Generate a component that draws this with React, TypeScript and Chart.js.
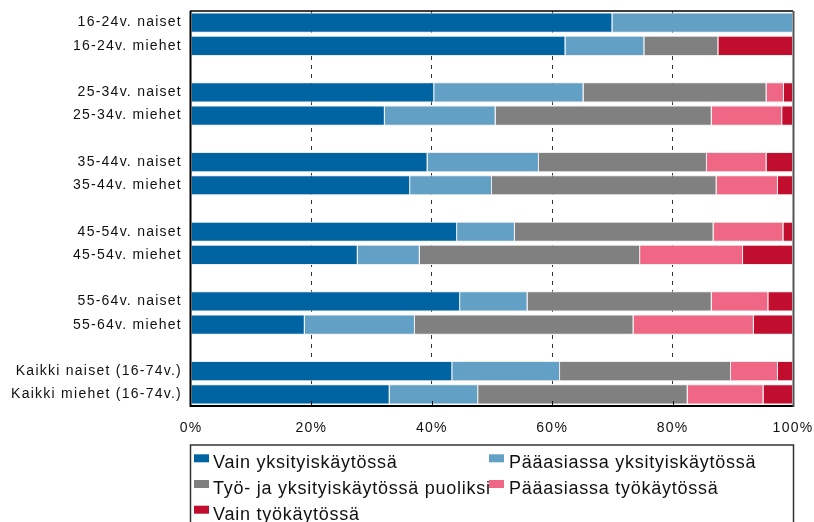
import React, { useEffect, useRef } from 'react';
import { Chart, registerables } from 'chart.js';

Chart.register(...registerables);

const categories = [
  '16-24v. naiset', '16-24v. miehet', '',
  '25-34v. naiset', '25-34v. miehet', '',
  '35-44v. naiset', '35-44v. miehet', '',
  '45-54v. naiset', '45-54v. miehet', '',
  '55-64v. naiset', '55-64v. miehet', '',
  'Kaikki naiset (16-74v.)', 'Kaikki miehet (16-74v.)',
];

const seriesNames = [
  'Vain yksityiskäytössä',
  'Pääasiassa yksityiskäytössä',
  'Työ- ja yksityiskäytössä puoliksi',
  'Pääasiassa työkäytössä',
  'Vain työkäytössä',
];

const vainYksityis = [70.0, 62.2, null, 40.4, 32.2, null, 39.3, 36.4, null, 44.2, 27.7, null, 44.7, 18.9, null, 43.4, 33.0];
const paaasiassaYksityis = [30.0, 13.1, null, 24.8, 18.4, null, 18.5, 13.6, null, 9.6, 10.3, null, 11.2, 18.3, null, 17.9, 14.7];
const puoliksi = [0, 12.3, null, 30.4, 35.9, null, 27.9, 37.3, null, 33.0, 36.6, null, 30.6, 36.3, null, 28.4, 34.8];
const paaasiassaTyo = [0, 0, null, 2.9, 11.7, null, 9.9, 10.2, null, 11.6, 17.1, null, 9.4, 20.0, null, 7.8, 12.6];
const vainTyo = [0, 12.4, null, 1.5, 1.8, null, 4.4, 2.5, null, 1.6, 8.3, null, 4.1, 6.5, null, 2.5, 4.9];

const seriesValues = [vainYksityis, paaasiassaYksityis, puoliksi, paaasiassaTyo, vainTyo];
const seriesColors = ['#0064a3', '#62a0c6', '#808080', '#f06785', '#c10e2f'];

const xTickValues = [0, 20, 40, 60, 80, 100];

const FONT = '"Liberation Sans", Arial, Helvetica, sans-serif';

const spacingPlugin = {
  id: 'spacing',
  beforeDraw(chart: any) {
    chart.ctx.letterSpacing = '1.25px';
  },
};

const framePlugin = {
  id: 'frame',
  afterDatasetsDraw(chart: any) {
    const { ctx, chartArea: a } = chart;
    const xs = chart.scales.x;
    ctx.save();
    ctx.strokeStyle = '#111';
    ctx.lineWidth = 1;
    [20, 40, 60, 80].forEach((v) => {
      const x = Math.round(xs.getPixelForValue(v)) + 0.5;
      ctx.beginPath();
      ctx.moveTo(x, a.bottom - 5);
      ctx.lineTo(x, a.bottom);
      ctx.stroke();
    });
    ctx.strokeStyle = '#000';
    ctx.lineWidth = 1.5;
    ctx.beginPath();
    ctx.moveTo(a.left - 1, a.top);
    ctx.lineTo(a.right, a.top);
    ctx.stroke();
    ctx.lineWidth = 2;
    ctx.beginPath();
    ctx.moveTo(a.left - 0.5, a.top);
    ctx.lineTo(a.left - 0.5, a.bottom + 1);
    ctx.stroke();
    ctx.beginPath();
    ctx.moveTo(a.left - 1, a.bottom);
    ctx.lineTo(a.right + 1, a.bottom);
    ctx.stroke();
    ctx.strokeStyle = '#555';
    ctx.lineWidth = 2;
    ctx.beginPath();
    ctx.moveTo(a.right + 0.5, a.top);
    ctx.lineTo(a.right + 0.5, a.bottom + 1);
    ctx.stroke();
    ctx.restore();
  },
};

const boxLegendPlugin = {
  id: 'boxLegend',
  afterDraw(chart: any) {
    const { ctx, chartArea: a } = chart;
    ctx.save();
    ctx.letterSpacing = '0.75px';
    const boxTop = a.bottom + 39;
    ctx.strokeStyle = '#333';
    ctx.lineWidth = 1.5;
    ctx.strokeRect(a.left - 0.5, boxTop, a.right - a.left + 1, 200);
    const colText = [a.left + 22, a.left + 318];
    const colRect = [a.left + 3, a.left + 298];
    const baselines = [boxTop + 23.3, boxTop + 49, boxTop + 74.7];
    ctx.font = `18px ${FONT}`;
    ctx.textBaseline = 'alphabetic';
    ctx.textAlign = 'left';
    chart.data.datasets.forEach((ds: any, i: number) => {
      const row = Math.floor(i / 2);
      const col = i % 2;
      const by = baselines[row];
      ctx.fillStyle = ds.backgroundColor;
      ctx.fillRect(colRect[col], by - 14, 15, 8);
      ctx.fillStyle = '#111';
      ctx.fillText(ds.label, colText[col], by);
    });
    ctx.restore();
  },
};

export default function App() {
  const ref = useRef<HTMLCanvasElement>(null);
  useEffect(() => {
    if (!ref.current) return;
    const chart = new Chart(ref.current, {
      type: 'bar',
      data: {
        labels: categories,
        datasets: seriesNames.map((name, i) => ({
          label: name,
          data: seriesValues[i],
          backgroundColor: seriesColors[i],
          borderColor: '#ececec',
          borderWidth: 1,
          borderSkipped: 'start',
          barPercentage: 0.87,
          categoryPercentage: 1,
        })),
      },
      options: {
        indexAxis: 'y',
        animation: false,
        responsive: false,
        devicePixelRatio: 1,
        layout: { padding: { top: 11, right: 21, bottom: 76, left: 0 } },
        plugins: { legend: { display: false }, tooltip: { enabled: false } },
        scales: {
          x: {
            stacked: true,
            min: 0,
            max: 100,
            afterBuildTicks: (scale: any) => {
              scale.ticks = xTickValues.map((v) => ({ value: v }));
            },
            afterFit: (scale: any) => {
              scale.height = 40;
              scale.paddingLeft = 0;
              scale.paddingRight = 0;
            },
            ticks: {
              callback: (v: any) => `${v}%`,
              color: '#111',
              font: { family: FONT, size: 14 },
              padding: 14,
              maxRotation: 0,
            },
            grid: {
              drawTicks: false,
              color: (c: any) => (c.tick && (c.tick.value === 0 || c.tick.value === 100) ? 'rgba(0,0,0,0)' : '#333'),
              lineWidth: 1,
            },
            border: { display: false, dash: [4, 5] },
          },
          y: {
            stacked: true,
            afterFit: (scale: any) => {
              scale.width = 191;
              scale.paddingTop = 0;
              scale.paddingBottom = 0;
            },
            ticks: {
              autoSkip: false,
              color: '#111',
              font: { family: FONT, size: 14 },
              padding: 9,
            },
            grid: { display: false, drawTicks: false },
            border: { display: false },
          },
        },
      },
      plugins: [spacingPlugin, framePlugin, boxLegendPlugin],
    } as any);
    return () => chart.destroy();
  }, []);
  return (
    <div style={{ position: 'fixed', left: 0, top: 0, width: 814, height: 522, background: '#fff' }}>
      <canvas ref={ref} width={814} height={522} style={{ display: 'block' }} />
    </div>
  );
}
